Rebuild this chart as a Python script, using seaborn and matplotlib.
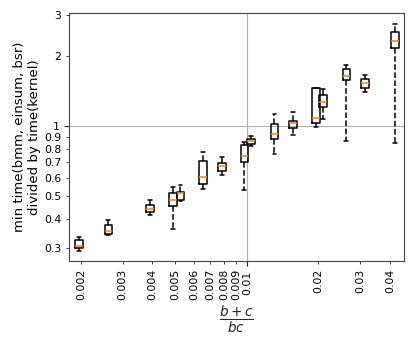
import matplotlib
matplotlib.use("Agg")
import matplotlib.pyplot as plt
import seaborn as sns
import pandas as pd

# x = (b+c)/(bc) for each block configuration
ratio = [0.00196, 0.00261, 0.00391, 0.00488, 0.00525, 0.00653, 0.00785, 0.00976,
         0.01044, 0.01306, 0.01562, 0.01952, 0.0209, 0.02624, 0.0314, 0.0420]
# box statistics of min time(bmm, einsum, bsr) / time(kernel)
whis_lo = [0.292, 0.342, 0.416, 0.362, 0.475, 0.537, 0.619, 0.530,
           0.820, 0.763, 0.921, 0.990, 1.072, 0.864, 1.402, 0.847]
q1 = [0.300, 0.345, 0.428, 0.456, 0.483, 0.566, 0.642, 0.702,
      0.842, 0.885, 0.983, 1.033, 1.204, 1.574, 1.462, 2.175]
med = [0.305, 0.355, 0.442, 0.484, 0.518, 0.605, 0.672, 0.745,
       0.864, 0.930, 1.033, 1.086, 1.269, 1.637, 1.537, 2.332]
q3 = [0.325, 0.377, 0.460, 0.518, 0.523, 0.707, 0.695, 0.828,
      0.885, 1.027, 1.058, 1.454, 1.356, 1.755, 1.599, 2.535]
whis_hi = [0.336, 0.394, 0.483, 0.548, 0.557, 0.773, 0.735, 0.859,
           0.908, 1.123, 1.149, 1.462, 1.444, 1.832, 1.659, 2.753]

xticks_minor = [0.002, 0.003, 0.004, 0.005, 0.006, 0.007, 0.008, 0.009, 0.02, 0.03, 0.04]
yticks_minor = [0.3, 0.4, 0.5, 0.6, 0.7, 0.8, 0.9, 2, 3]

sns.set_style("ticks")
plt.rcParams['font.family'] = ['DejaVu Sans']

df = pd.DataFrame({"ratio": ratio, "whislo": whis_lo, "q1": q1, "med": med,
                   "q3": q3, "whishi": whis_hi})
stats = [dict(whislo=r.whislo, q1=r.q1, med=r.med, q3=r.q3, whishi=r.whishi, fliers=[])
         for r in df.itertuples()]

fig, ax = plt.subplots(figsize=(4.15, 3.46), dpi=100)
fig.subplots_adjust(left=0.166, right=0.973, top=0.962, bottom=0.246)
ax.set_xscale('log')
ax.set_yscale('log')

# same width on the log axis for every box
widths = df["ratio"] * 0.073
ax.bxp(stats, positions=df["ratio"], widths=widths, showfliers=False, manage_ticks=False,
       boxprops=dict(color='black', linewidth=1.1),
       whiskerprops=dict(color='black', linestyle='--', linewidth=1.1),
       capprops=dict(color='black', linewidth=1.1),
       medianprops=dict(color='#ff7f0e', linewidth=1.1))

ax.set_xlim(0.00178, 0.0458)
ax.set_ylim(0.264, 3.06)

ax.set_xticks([0.01], ['0.01'])
ax.set_xticks(xticks_minor, [str(t) for t in xticks_minor], minor=True)
ax.set_yticks([1], ['1'])
ax.set_yticks(yticks_minor, [str(t) for t in yticks_minor], minor=True)
ax.tick_params(axis='both', which='both', labelsize=7.8, color='.15', labelcolor='black')
ax.tick_params(axis='x', which='both', labelrotation=90)
ax.tick_params(which='major', length=3.5, width=0.8)
ax.tick_params(which='minor', length=2, width=0.6)
for s in ax.spines.values():
    s.set_color('#444444')

ax.grid(True, which='major', color='#b0b0b0', linewidth=0.8)

ax.set_xlabel(r'$\frac{b+c}{bc}$', fontsize=14, labelpad=3)
ax.set_ylabel('min time(bmm, einsum, bsr)\ndivided by time(kernel)', fontsize=9.5,
              color='black', labelpad=2)

plt.savefig('out.png', dpi=100)
